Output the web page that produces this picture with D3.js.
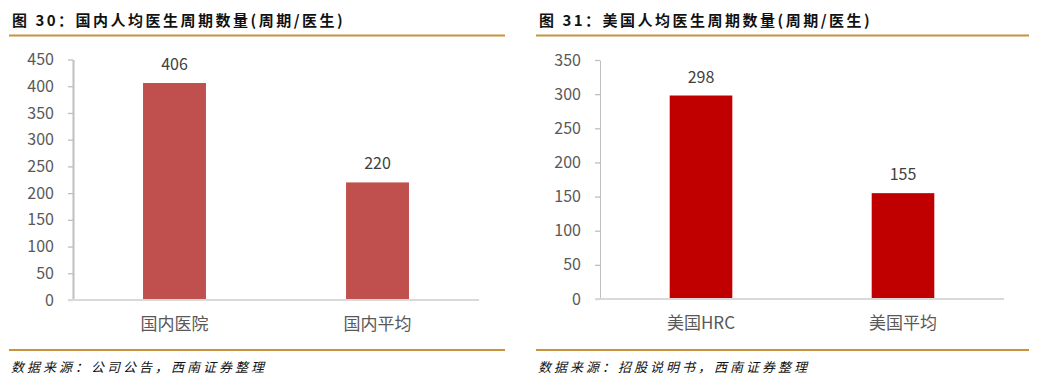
<!DOCTYPE html>
<html><head><meta charset="utf-8">
<script src="https://cdn.jsdelivr.net/npm/d3@7"></script>
<style>
html,body{margin:0;padding:0;background:#fff;}
svg{display:block;}
text{font-family:"Noto Sans CJK SC","Noto Sans",sans-serif;}
</style></head>
<body>
<svg id="chart" width="1038" height="382"></svg>
<script>
// ---- data ----
const titles = ["图 30：国内人均医生周期数量(周期/医生)", "图 31：美国人均医生周期数量(周期/医生)"];
const sources = ["数据来源：公司公告，西南证券整理", "数据来源：招股说明书，西南证券整理"];
const categoriesCN = ["国内医院", "国内平均"];
const valuesCN = [406, 220];
const ticksCN = [0, 50, 100, 150, 200, 250, 300, 350, 400, 450];
const categoriesUS = ["美国HRC", "美国平均"];
const valuesUS = [298, 155];
const ticksUS = [0, 50, 100, 150, 200, 250, 300, 350];

const svg = d3.select("#chart");
const gold = "#C8923F";

function panel(o) {
  const g = svg.append("g");
  // title
  g.append("text").attr("x", o.left + 3).attr("y", 26)
    .attr("font-size", 15).attr("font-weight", "bold").attr("fill", "#111")
    .attr("letter-spacing", "2.5px").text(o.title);
  // rules
  g.append("rect").attr("x", o.left).attr("y", 34.5).attr("width", o.right - o.left).attr("height", 2).attr("fill", gold);
  g.append("rect").attr("x", o.left).attr("y", 349).attr("width", o.right - o.left).attr("height", 2).attr("fill", gold);
  // source
  g.append("text").attr("x", o.left + 2).attr("y", 372)
    .attr("font-size", 13).attr("font-style", "italic").attr("fill", "#111")
    .attr("letter-spacing", "3px").text(o.source);

  const x = d3.scaleBand().domain(o.categories).range([o.ax, o.ax2]).paddingInner(0.69).paddingOuter(0.345);
  const y = d3.scaleLinear().domain([0, d3.max(o.ticks)]).range([o.y0, o.yTop]);

  // bars
  g.selectAll("rect.bar").data(o.values).enter().append("rect").attr("class", "bar")
    .attr("x", (d, i) => x(o.categories[i]))
    .attr("width", x.bandwidth())
    .attr("y", d => y(d))
    .attr("height", d => y(0) - y(d))
    .attr("fill", o.color);

  // value labels
  g.selectAll("text.val").data(o.values).enter().append("text").attr("class", "val")
    .attr("x", (d, i) => x(o.categories[i]) + x.bandwidth() / 2)
    .attr("y", d => y(d) - 13)
    .attr("text-anchor", "middle").attr("font-size", 16).attr("fill", "#404040")
    .text(d => d);

  // y axis
  const ya = g.append("g").attr("transform", `translate(${o.ax},0)`)
    .call(d3.axisLeft(y).tickValues(o.ticks).tickSize(5).tickSizeOuter(0).tickPadding(14).tickFormat(d3.format("d")));
  ya.selectAll("path.domain").attr("stroke", "#bfbfbf").attr("stroke-width", o.ysw);
  ya.selectAll(".tick line").attr("stroke", "#bfbfbf").attr("stroke-width", 1.3);
  ya.selectAll(".tick text").attr("font-size", 16).attr("fill", "#595959")
    .style("font-family", "'Noto Sans CJK SC', sans-serif");

  // x axis
  const xa = g.append("g").attr("transform", `translate(0,${o.y0})`)
    .call(d3.axisBottom(x).tickSize(0).tickPadding(18));
  xa.select("path.domain").remove();
  xa.append("line").attr("x1", o.ax - 5).attr("x2", o.ax2).attr("y1", 0).attr("y2", 0)
    .attr("stroke", "#d9d9d9").attr("stroke-width", 2);
  xa.selectAll(".tick text").attr("font-size", 17).attr("fill", "#595959")
    .style("font-family", "'Noto Sans CJK SC', sans-serif");
}

panel({title: titles[0], source: sources[0], categories: categoriesCN, values: valuesCN, ticks: ticksCN,
  left: 9, right: 505, ax: 73, ax2: 479, y0: 300, yTop: 59.5, color: "#C0504D", ysw: 2});
panel({title: titles[1], source: sources[1], categories: categoriesUS, values: valuesUS, ticks: ticksUS,
  left: 536, right: 1029, ax: 600, ax2: 1004, y0: 299, yTop: 60, color: "#C00000", ysw: 1});
</script>
</body></html>
